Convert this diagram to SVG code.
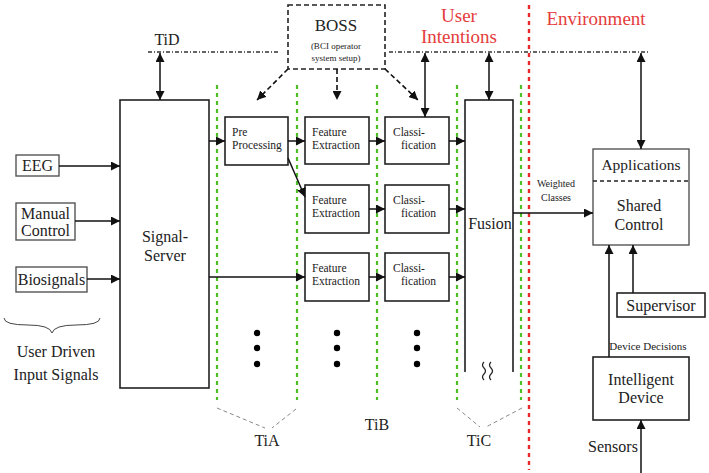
<svg xmlns="http://www.w3.org/2000/svg" width="709" height="473" viewBox="0 0 709 473">
<defs>
<marker id="ah" viewBox="0 0 10 10" refX="10" refY="5" markerWidth="9" markerHeight="9" markerUnits="userSpaceOnUse" orient="auto-start-reverse"><path d="M0,0 L10,5 L0,10 z" fill="#111"/></marker>
</defs>
<style>
text{fill:#222;text-anchor:middle}
.l{text-anchor:start}
.box{fill:#fff;stroke:#222;stroke-width:1.6}
.gbox{fill:#fff;stroke:#555;stroke-width:1.4}
.ln{fill:none;stroke:#111;stroke-width:1.5}
.dash{fill:none;stroke:#111;stroke-width:1.6;stroke-dasharray:5,3}
.green{stroke:#4cbf2a;stroke-width:2.2;stroke-dasharray:4,4;fill:none}
.red{stroke:#e82a2a;stroke-width:2.4;stroke-dasharray:4,4;fill:none}
.gray{stroke:#888;stroke-width:1;stroke-dasharray:4,3;fill:none}
.tid{stroke:#333;stroke-width:1.4;stroke-dasharray:4,2,1,2;fill:none}
.t16{font-size:16px}
.t12{font-size:11.5px}
.t10{font-size:10px}
.red-t{fill:#e43c3c;font-size:19px}
</style>
<g font-family="Liberation Serif, DejaVu Serif, Noto Serif, Times New Roman, Times, serif">

<g id="guides">
<line class="green" x1="217" y1="85" x2="217" y2="400"/>
<line class="green" x1="297" y1="85" x2="297" y2="400"/>
<line class="green" x1="377" y1="85" x2="377" y2="400"/>
<line class="green" x1="457" y1="85" x2="457" y2="400"/>
<line class="green" x1="521" y1="85" x2="521" y2="400"/>
<line class="red" x1="529" y1="5" x2="529" y2="470"/>
<path class="gray" d="M217,408 L265,428 M296,409 L272,428"/>
<path class="gray" d="M457,408 L480,427 M522,408 L486,427"/>
<path class="tid" d="M148,52 L280,52"/>
<path class="tid" d="M389,52 L648,52"/>
</g>

<g id="labels">
<text x="167" y="45" class="t16">TiD</text>
<text x="459" y="22" class="red-t">User</text>
<text x="459" y="43" class="red-t">Intentions</text>
<text x="596" y="25" class="red-t">Environment</text>
<text x="267" y="446" class="t16">TiA</text>
<text x="377" y="430" class="t16">TiB</text>
<text x="479" y="446" class="t16">TiC</text>
<text x="56" y="357" class="t16">User Driven</text>
<text x="56" y="380" class="t16">Input Signals</text>
<path d="M4,318 Q4,325 28,325 Q50,325 52,333 Q54,325 76,325 Q100,325 100,318" fill="none" stroke="#444" stroke-width="1"/>
<text x="556" y="187" class="t10">Weighted</text>
<text x="556" y="201" class="t10">Classes</text>
<text x="648" y="350" style="font-size:11px">Device Decisions</text>
<text x="613" y="452" class="t16">Sensors</text>
</g>

<g id="boss">
<rect x="288" y="5" width="97" height="64" fill="#fff" stroke="#222" stroke-width="1.6" stroke-dasharray="5,3"/>
<text x="336" y="31" style="font-size:17px">BOSS</text>
<text x="336" y="49" style="font-size:9px">(BCI operator</text>
<text x="336" y="61" style="font-size:9px">system setup)</text>
</g>

<g id="eeg"><rect class="gbox" x="16" y="155" width="43" height="21"/><text x="37.5" y="171" class="t16">EEG</text></g>
<g id="manual"><rect class="gbox" x="16" y="203" width="59" height="37"/><text x="45.5" y="219" class="t16">Manual</text><text x="45.5" y="236" class="t16">Control</text></g>
<g id="biosignals"><rect class="gbox" x="16" y="267" width="71" height="25"/><text x="51.5" y="285" class="t16">Biosignals</text></g>

<g id="signal-server"><rect class="box" x="120" y="100" width="89" height="288"/><text x="165" y="242" class="t16">Signal-</text><text x="165" y="261" class="t16">Server</text></g>

<g id="preprocessing"><rect class="box" x="225" y="117" width="63" height="48"/><text x="232" y="136" class="t12 l">Pre</text><text x="232" y="149" class="t12 l">Processing</text></g>

<g id="fe1"><rect class="box" x="305" y="117" width="64" height="47"/><text x="312" y="136" class="t12 l">Feature</text><text x="312" y="149" class="t12 l">Extraction</text></g>
<g id="fe2"><rect class="box" x="305" y="185" width="64" height="48"/><text x="312" y="204" class="t12 l">Feature</text><text x="312" y="217" class="t12 l">Extraction</text></g>
<g id="fe3"><rect class="box" x="305" y="253" width="64" height="48"/><text x="312" y="272" class="t12 l">Feature</text><text x="312" y="285" class="t12 l">Extraction</text></g>

<g id="cl1"><rect class="box" x="385" y="117" width="64" height="47"/><text x="393" y="136" class="t12 l">Classi-</text><text x="401" y="149" class="t12 l">fication</text></g>
<g id="cl2"><rect class="box" x="385" y="185" width="64" height="48"/><text x="393" y="204" class="t12 l">Classi-</text><text x="401" y="217" class="t12 l">fication</text></g>
<g id="cl3"><rect class="box" x="385" y="253" width="64" height="48"/><text x="393" y="272" class="t12 l">Classi-</text><text x="401" y="285" class="t12 l">fication</text></g>

<g id="fusion">
<path class="ln" d="M465,372 L465,100 L513,100 L513,372" stroke-width="1.6"/>
<text x="490" y="229" class="t16">Fusion</text>
<path d="M484,362 q-3,3 0,6 q3,3 0,6 q-3,3 0,6 M491,362 q-3,3 0,6 q3,3 0,6 q-3,3 0,6" fill="none" stroke="#222" stroke-width="1.2"/>
</g>

<g id="applications"><rect class="gbox" x="593" y="149" width="96" height="96"/><line x1="593" y1="181" x2="689" y2="181" stroke="#222" stroke-width="1.3" stroke-dasharray="4,3"/><text x="641" y="170" style="font-size:15.5px">Applications</text><text x="639" y="211" class="t16">Shared</text><text x="639" y="230" class="t16">Control</text></g>
<g id="supervisor"><rect class="box" x="617" y="293" width="88" height="24"/><text x="661" y="311" class="t16">Supervisor</text></g>
<g id="intelligent-device"><rect class="box" x="593" y="357" width="96" height="63"/><text x="641" y="385" class="t16">Intelligent</text><text x="641" y="403" class="t16">Device</text></g>

<g id="dots" fill="#000">
<circle cx="257" cy="333" r="3.2"/><circle cx="257" cy="348" r="3.2"/><circle cx="257" cy="364" r="3.2"/>
<circle cx="337" cy="333" r="3.2"/><circle cx="337" cy="348" r="3.2"/><circle cx="337" cy="364" r="3.2"/>
<circle cx="417" cy="333" r="3.2"/><circle cx="417" cy="348" r="3.2"/><circle cx="417" cy="364" r="3.2"/>
</g>

<g id="connectors">
<line class="ln" x1="160" y1="53" x2="160" y2="100" marker-start="url(#ah)" marker-end="url(#ah)"/>
<line class="ln" x1="425" y1="53" x2="425" y2="117" marker-start="url(#ah)" marker-end="url(#ah)"/>
<line class="ln" x1="489" y1="53" x2="489" y2="100" marker-start="url(#ah)" marker-end="url(#ah)"/>
<line class="ln" x1="641" y1="53" x2="641" y2="149" marker-start="url(#ah)" marker-end="url(#ah)"/>
<line class="dash" x1="288" y1="69" x2="257" y2="100" marker-end="url(#ah)"/>
<line class="dash" x1="337" y1="69" x2="337" y2="100" marker-end="url(#ah)"/>
<line class="dash" x1="385" y1="69" x2="418" y2="100" marker-end="url(#ah)"/>
<line class="ln" x1="59" y1="166" x2="120" y2="166" marker-end="url(#ah)"/>
<line class="ln" x1="75" y1="221" x2="120" y2="221" marker-end="url(#ah)"/>
<line class="ln" x1="87" y1="279" x2="120" y2="279" marker-end="url(#ah)"/>
<line class="ln" x1="209" y1="141" x2="225" y2="141" marker-end="url(#ah)"/>
<line class="ln" x1="209" y1="277" x2="305" y2="277" marker-end="url(#ah)"/>
<line class="ln" x1="288" y1="141" x2="305" y2="141" marker-end="url(#ah)"/>
<line class="ln" x1="288" y1="158" x2="305" y2="197" marker-end="url(#ah)"/>
<line class="ln" x1="369" y1="141" x2="385" y2="141" marker-end="url(#ah)"/>
<line class="ln" x1="369" y1="209" x2="385" y2="209" marker-end="url(#ah)"/>
<line class="ln" x1="369" y1="277" x2="385" y2="277" marker-end="url(#ah)"/>
<line class="ln" x1="449" y1="141" x2="465" y2="141" marker-end="url(#ah)"/>
<line class="ln" x1="449" y1="209" x2="465" y2="209" marker-end="url(#ah)"/>
<line class="ln" x1="449" y1="277" x2="465" y2="277" marker-end="url(#ah)"/>
<line class="ln" x1="513" y1="213" x2="593" y2="213" marker-end="url(#ah)"/>
<line class="ln" x1="633" y1="293" x2="633" y2="245" marker-end="url(#ah)"/>
<line class="ln" x1="609" y1="357" x2="609" y2="245" marker-end="url(#ah)"/>
<line class="ln" x1="641" y1="473" x2="641" y2="420" stroke-width="2.6" marker-end="url(#ah)"/>
</g>
</g>
</svg>
